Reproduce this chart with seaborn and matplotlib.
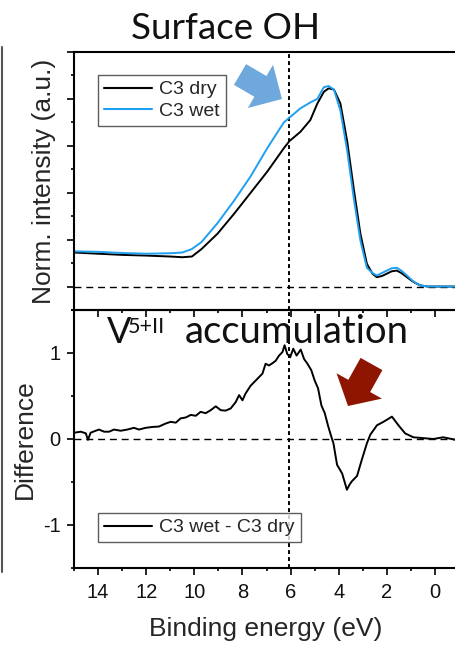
import matplotlib
matplotlib.use("Agg")
import matplotlib.pyplot as plt
import numpy as np
import pandas as pd
import seaborn as sns
from matplotlib.patches import FancyArrow
from matplotlib.transforms import IdentityTransform
from matplotlib.lines import Line2D
from matplotlib.ticker import MultipleLocator

# ---- valence-band spectra (normalised) ----
energy_top = [15.0, 14.0, 13.0, 12.0, 11.0, 10.5, 10.1, 9.7, 9.04, 8.35, 7.66, 6.97,
              6.28, 6.05, 5.59, 5.18, 4.89, 4.62, 4.42, 4.2, 3.93, 3.65, 3.38, 3.1,
              2.83, 2.6, 2.42, 2.2, 2.0, 1.8, 1.59, 1.4, 1.17, 0.9, 0.62, 0.3, 0.0, -1.1]
c3_dry = [0.145, 0.140, 0.135, 0.132, 0.128, 0.125, 0.128, 0.160, 0.225, 0.310, 0.400, 0.490,
          0.590, 0.620, 0.660, 0.710, 0.780, 0.830, 0.845, 0.840, 0.780, 0.620, 0.420, 0.225,
          0.097, 0.055, 0.040, 0.045, 0.055, 0.065, 0.068, 0.058, 0.040, 0.020, 0.005, 0.0, 0.0, 0.0]
c3_wet = [0.150, 0.148, 0.143, 0.140, 0.142, 0.145, 0.160, 0.190, 0.270, 0.366, 0.470, 0.590,
          0.700, 0.720, 0.760, 0.785, 0.800, 0.850, 0.855, 0.840, 0.750, 0.580, 0.380, 0.196,
          0.080, 0.058, 0.047, 0.058, 0.068, 0.078, 0.080, 0.068, 0.047, 0.022, 0.005, 0.0, 0.0, 0.0]

# ---- difference spectrum (wet - dry) ----
energy_diff = [15.00, 14.72, 14.51, 14.42, 14.31, 14.10, 13.96, 13.75, 13.54, 13.34, 13.06,
               12.78, 12.51, 12.30, 12.02, 11.74, 11.47, 11.19, 10.98, 10.77, 10.57, 10.36,
               10.15, 9.94, 9.74, 9.53, 9.32, 9.11, 8.90, 8.70, 8.49, 8.28, 8.14, 8.00, 7.87,
               7.66, 7.45, 7.31, 7.17, 7.04, 6.90, 6.76, 6.62, 6.48, 6.34, 6.25, 6.14, 6.02,
               5.89, 5.75, 5.58, 5.44, 5.30, 5.14, 5.00, 4.86, 4.72, 4.58, 4.45, 4.33, 4.22,
               4.07, 3.86, 3.66, 3.55, 3.45, 3.24, 3.04, 2.83, 2.69, 2.41, 2.14, 1.79, 1.52,
               1.24, 0.90, 0.48, 0.07, -0.34, -0.87, -1.1]
difference = [0.073, 0.085, 0.066, -0.01, 0.073, 0.096, 0.11, 0.085, 0.085, 0.11, 0.096,
              0.11, 0.13, 0.11, 0.13, 0.14, 0.145, 0.18, 0.20, 0.19, 0.24, 0.25,
              0.28, 0.27, 0.316, 0.30, 0.335, 0.38, 0.335, 0.33, 0.355, 0.43, 0.51, 0.45, 0.53,
              0.62, 0.68, 0.72, 0.76, 0.875, 0.855, 0.88, 0.91, 0.97, 1.01, 1.09, 0.99, 0.95,
              1.05, 0.97, 1.04, 0.93, 0.875, 0.80, 0.68, 0.59, 0.39, 0.30, 0.16, 0.046, -0.05,
              -0.30, -0.40, -0.59, -0.53, -0.49, -0.43, -0.24, -0.05, 0.05, 0.16, 0.20, 0.26, 0.16,
              0.065, 0.02, 0.01, 0.0, 0.02, -0.01, -0.01]

marker_energy = 6.05

top_df = pd.DataFrame({"energy": energy_top, "dry": c3_dry, "wet": c3_wet})
diff_df = pd.DataFrame({"energy": energy_diff, "diff": difference})

sns.set_theme(style="ticks")
plt.rcParams["font.family"] = ["Liberation Sans", "DejaVu Sans"]
plt.rcParams["axes.unicode_minus"] = False

W, H = 456, 645
fig = plt.figure(figsize=(W / 100, H / 100), dpi=100)


def box(l, t, r, b):
    return [l / W, 1 - b / H, (r - l) / W, (b - t) / H]


ax1 = fig.add_axes(box(74, 52, 461, 310))
ax2 = fig.add_axes(box(74, 310, 461, 568))
ax2.patch.set_alpha(0)

BLUE = "#1E9FEF"

sns.lineplot(data=top_df, x="energy", y="dry", ax=ax1, color="black", lw=1.4, label="C3 dry")
sns.lineplot(data=top_df, x="energy", y="wet", ax=ax1, color=BLUE, lw=1.4, label="C3 wet")
sns.lineplot(data=diff_df, x="energy", y="diff", ax=ax2, color="black", lw=1.4,
             label="C3 wet - C3 dry")

for ax in (ax1, ax2):
    ax.set_xlim(15, -1.08)
    ax.axhline(0, color="black", lw=1.0, ls=(0, (5, 3.5)), zorder=1)
    ax.axvline(marker_energy, color="black", lw=1.4, ls=(0, (2, 1.6)), zorder=1)
    for s in ax.spines.values():
        s.set_linewidth(1.5)
        s.set_color("black")
    ax.xaxis.set_major_locator(MultipleLocator(2))
    ax.xaxis.set_minor_locator(MultipleLocator(1))
    ax.tick_params(which="major", length=5, width=1.2, color="black",
                   labelsize=14.5, labelcolor="#111111")
    ax.tick_params(which="minor", length=2.5, width=1.2, color="black")
    ax.set_xlabel("")
    ax.set_ylabel("")

# upper panel
ax1.set_ylim(-0.1, 1.0)
ax1.yaxis.set_major_locator(MultipleLocator(0.2))
ax1.yaxis.set_minor_locator(MultipleLocator(0.1))
ax1.tick_params(axis="y", labelleft=False)
ax1.tick_params(axis="x", which="both", labelbottom=False, direction="out")
ax1.set_ylabel("Norm. intensity (a.u.)", fontsize=19, va="center")
ax1.yaxis.set_label_coords(-0.078, 0.5)

# lower panel
ax2.set_ylim(-1.5, 1.5)
ax2.yaxis.set_major_locator(MultipleLocator(1))
ax2.yaxis.set_minor_locator(MultipleLocator(0.5))
ax2.tick_params(axis="x", which="major", pad=5.5)
ax2.tick_params(axis="y", which="major", pad=4.5)
ax2.set_ylabel("Difference", fontsize=19, va="center")
ax2.yaxis.set_label_coords(-0.128, 0.5)
ax2.set_xlabel("Binding energy (eV)", fontsize=19, va="center")
ax2.xaxis.set_label_coords(0.496, -0.236)

leg_kw = dict(loc="upper left", borderaxespad=0, fancybox=False, frameon=True,
              handlelength=2.5, handletextpad=0.35, borderpad=0.3, labelspacing=0.2,
              prop={"size": 14})
leg1 = ax1.legend(bbox_to_anchor=(0.062, 0.911), **leg_kw)
leg2 = ax2.legend(bbox_to_anchor=(0.062, 0.213), **leg_kw)
for lg in (leg1, leg2):
    lg.get_frame().set_edgecolor("#333333")
    lg.get_frame().set_linewidth(1.0)
    for ln in lg.get_lines():
        ln.set_linewidth(1.5)

# headings
fig.text(226 / W, 1 - 39 / H, "Surface OH", ha="center", va="baseline",
         family=["Lato", "DejaVu Sans"], fontsize=26.5, color="#111111")
fig.text(107 / W, 1 - 343 / H, "V", ha="left", va="baseline",
         family=["Lato", "DejaVu Sans"], fontsize=26, color="#111111")
fig.text(128 / W, 1 - 333 / H, "5+II", ha="left", va="baseline",
         family=["Lato", "DejaVu Sans"], fontsize=15.5, color="#111111")
fig.text(185 / W, 1 - 343 / H, "accumulation", ha="left", va="baseline",
         family=["Lato", "DejaVu Sans"], fontsize=27.5, color="#111111")

# block arrows (pixel coordinates of the canvas)
px = IdentityTransform()
fig.add_artist(FancyArrow(240, H - 74.5, 42, -24.5, width=24, head_width=50, head_length=25,
                          length_includes_head=True, transform=px, color="#6FA8DC", lw=0))
fig.add_artist(FancyArrow(371.5, H - 364, -23.5, -42, width=25, head_width=52, head_length=23,
                          length_includes_head=True, transform=px, color="#8E1600", lw=0))

# edge rule at the far left
fig.add_artist(Line2D([2, 2], [H - 47, H - 572], transform=px, color="#555555", lw=1.5))

fig.savefig("out.png", dpi=100)
